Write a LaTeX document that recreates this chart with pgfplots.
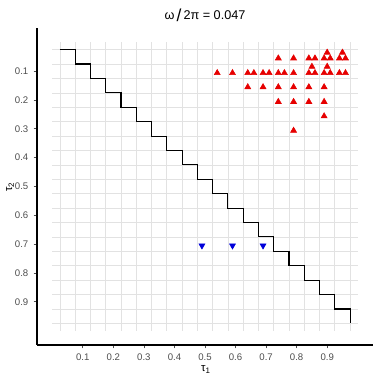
\documentclass[border=0pt]{standalone}
\usepackage{pgfplots}
\pgfplotsset{compat=1.18}
\usepackage{fontspec}
\setmainfont{Liberation Sans}
\definecolor{tickgray}{HTML}{4D4D4D}
\definecolor{gridgray}{HTML}{E2E2E2}
\definecolor{ptred}{HTML}{E60000}
\definecolor{ptblue}{HTML}{0000D9}
\begin{document}
\begin{tikzpicture}
\begin{axis}[
  at={(0,0)}, anchor=south west,
  scale only axis, width=252pt, height=237.75pt,
  xmin=-0.05, xmax=1.05, ymin=-0.05, ymax=1.05, y dir=reverse,
  axis x line*=bottom, axis y line*=left,
  axis line style={black, line width=0.8pt, -},
  xtick={0.1,0.2,0.3,0.4,0.5,0.6,0.7,0.8,0.9},
  ytick={0.1,0.2,0.3,0.4,0.5,0.6,0.7,0.8,0.9},
  tick align=outside, major tick length=2.5pt,
  tick style={tickgray, line width=0.6pt},
  /pgf/number format/.cd, fixed, fixed zerofill, precision=1, assume math mode=true,
  /pgfplots/.cd,
  ticklabel style={font=\fontsize{7.2}{8}\selectfont, text=tickgray},
  xticklabel style={yshift=-0.5pt},
  yticklabel style={xshift=-0.5pt},
  xlabel={τ\textsubscript{1}}, ylabel={τ\textsubscript{2}},
  label style={font=\fontsize{8.5}{9}\selectfont},
  xlabel style={at={(axis description cs:0.503,-0.078)}, anchor=center},
  ylabel style={at={(axis description cs:-0.080,0.498)}, anchor=center},
  title={ω\,\raisebox{-1pt}{\fontsize{13}{13}\selectfont /}\,2π = 0.047},
  title style={font=\fontsize{9.5}{10}\selectfont, at={(axis description cs:0.5,1.016)}, anchor=center},
  clip=false,
]
\pgfplotsinvokeforeach{0.025,0.075,0.125,0.175,0.225,0.275,0.325,0.375,0.425,0.475,0.525,0.575,0.625,0.675,0.725,0.775,0.825,0.875,0.925,0.975}{
  \draw[gridgray, line width=0.5pt] (axis cs:#1,0) -- (axis cs:#1,1);
  \draw[gridgray, line width=0.5pt] (axis cs:0,#1) -- (axis cs:1,#1);
}
\addplot[black, line width=0.8pt, no markers, line join=miter] coordinates {
(0.025,0.025)(0.075,0.025)(0.075,0.075)(0.125,0.075)(0.125,0.125)(0.175,0.125)(0.175,0.175)(0.225,0.175)(0.225,0.225)(0.275,0.225)(0.275,0.275)(0.325,0.275)(0.325,0.325)(0.375,0.325)(0.375,0.375)(0.425,0.375)(0.425,0.425)(0.475,0.425)(0.475,0.475)(0.525,0.475)(0.525,0.525)(0.575,0.525)(0.575,0.575)(0.625,0.575)(0.625,0.625)(0.675,0.625)(0.675,0.675)(0.725,0.675)(0.725,0.725)(0.775,0.725)(0.775,0.775)(0.825,0.775)(0.825,0.825)(0.875,0.825)(0.875,0.875)(0.925,0.875)(0.925,0.925)(0.975,0.925)(0.975,0.975)
};
\addplot[only marks, mark=triangle*, mark size=2.6pt, color=ptred, mark options={fill=ptred, draw=ptred}] coordinates {
(0.90,0.035)(0.95,0.035)
(0.74,0.055)(0.79,0.055)(0.84,0.055)(0.86,0.055)(0.89,0.055)(0.91,0.055)(0.94,0.055)(0.96,0.055)
(0.85,0.084)(0.90,0.084)
(0.54,0.106)(0.59,0.106)(0.64,0.106)(0.66,0.106)(0.69,0.106)(0.71,0.106)(0.74,0.106)(0.76,0.106)(0.79,0.106)(0.84,0.106)(0.86,0.106)(0.89,0.106)(0.91,0.106)(0.94,0.106)(0.96,0.106)
(0.64,0.155)(0.69,0.155)(0.74,0.155)(0.79,0.155)(0.84,0.155)(0.89,0.155)
(0.74,0.206)(0.79,0.206)(0.84,0.206)(0.89,0.206)
(0.89,0.256)
(0.79,0.306)
};
\addplot[only marks, mark=triangle*, mark size=2.6pt, color=ptblue, mark options={fill=ptblue, draw=ptblue, rotate=180}] coordinates {
(0.49,0.705)(0.59,0.705)(0.69,0.705)
};
\end{axis}
\pgfresetboundingbox
\path[use as bounding box] (-27.75pt,-26.25pt) rectangle (257.25pt,258.75pt);
\end{tikzpicture}
\end{document}
